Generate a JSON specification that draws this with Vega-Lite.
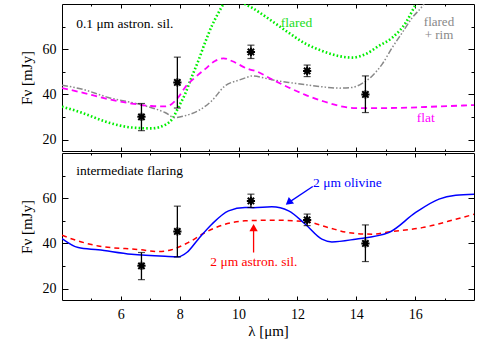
{
  "$schema": "https://vega.github.io/schema/vega-lite/v6.json",
  "padding": {"left": 18, "top": 3, "right": 5, "bottom": 5},
  "spacing": 0,
  "config": {
    "view": {"stroke": "black", "strokeWidth": 1},
    "font": "Liberation Serif",
    "axis": {"domain": false, "grid": false, "ticks": true, "tickColor": "black", "tickWidth": 1, "labelFont": "Liberation Serif", "labelFontSize": 14, "labelColor": "black", "titleFont": "Liberation Serif", "titleFontSize": 15, "titleFontWeight": "normal", "titleColor": "black"},
    "text": {"font": "Liberation Serif", "fontSize": 13.5}
  },
  "datasets": {
    "obs": [
      {"lam": 6.70, "F": 30.1, "lo": 24.0, "hi": 36.0},
      {"lam": 7.92, "F": 45.3, "lo": 34.0, "hi": 56.5},
      {"lam": 10.42, "F": 58.8, "lo": 55.9, "hi": 61.8},
      {"lam": 12.33, "F": 50.4, "lo": 47.9, "hi": 53.0},
      {"lam": 14.31, "F": 40.0, "lo": 32.0, "hi": 48.2}
    ],
    "flared": [
      {"lam": 4.0, "F": 34.6}, {"lam": 4.66, "F": 32.0}, {"lam": 5.57, "F": 27.6}, {"lam": 6.36, "F": 25.4},
      {"lam": 7.04, "F": 25.0}, {"lam": 7.55, "F": 26.9}, {"lam": 7.78, "F": 29.8}, {"lam": 7.95, "F": 34.2},
      {"lam": 8.18, "F": 40.1}, {"lam": 8.4, "F": 47.5}, {"lam": 8.63, "F": 54.8}, {"lam": 8.86, "F": 62.9},
      {"lam": 9.09, "F": 70.3}, {"lam": 9.32, "F": 76.2}, {"lam": 9.49, "F": 80.0}, {"lam": 9.8, "F": 83.5},
      {"lam": 10.0, "F": 83.2}, {"lam": 10.17, "F": 80.5}, {"lam": 10.45, "F": 78.4}, {"lam": 11.13, "F": 72.5},
      {"lam": 11.7, "F": 67.3}, {"lam": 12.27, "F": 62.5}, {"lam": 12.83, "F": 59.3}, {"lam": 13.4, "F": 57.0},
      {"lam": 13.86, "F": 56.3}, {"lam": 14.31, "F": 57.8}, {"lam": 14.77, "F": 61.5}, {"lam": 15.22, "F": 65.1},
      {"lam": 15.68, "F": 71.7}, {"lam": 16.02, "F": 79.8}, {"lam": 16.3, "F": 86.0}
    ],
    "rim": [
      {"lam": 4.0, "F": 44.1}, {"lam": 4.66, "F": 42.4}, {"lam": 5.57, "F": 38.7}, {"lam": 6.7, "F": 35.4},
      {"lam": 7.5, "F": 32.0}, {"lam": 7.84, "F": 29.8}, {"lam": 8.18, "F": 30.6}, {"lam": 8.63, "F": 32.8},
      {"lam": 9.09, "F": 37.2}, {"lam": 9.54, "F": 43.8}, {"lam": 10.0, "F": 46.3}, {"lam": 10.34, "F": 47.8},
      {"lam": 10.45, "F": 48.2}, {"lam": 11.13, "F": 46.5}, {"lam": 11.7, "F": 45.3}, {"lam": 12.27, "F": 44.3},
      {"lam": 12.83, "F": 43.4}, {"lam": 13.4, "F": 42.8}, {"lam": 13.86, "F": 43.1}, {"lam": 14.2, "F": 44.9},
      {"lam": 14.54, "F": 48.2}, {"lam": 14.88, "F": 53.4}, {"lam": 15.22, "F": 60.7}, {"lam": 15.56, "F": 67.3},
      {"lam": 15.9, "F": 73.9}, {"lam": 16.25, "F": 79.1}, {"lam": 16.5, "F": 84.0}
    ],
    "flat": [
      {"lam": 4.0, "F": 42.8}, {"lam": 4.66, "F": 40.9}, {"lam": 5.57, "F": 37.9}, {"lam": 6.36, "F": 36.0},
      {"lam": 7.04, "F": 34.9}, {"lam": 7.5, "F": 34.7}, {"lam": 7.72, "F": 35.7}, {"lam": 7.95, "F": 38.7},
      {"lam": 8.18, "F": 43.1}, {"lam": 8.52, "F": 47.5}, {"lam": 8.86, "F": 51.2}, {"lam": 9.2, "F": 54.8},
      {"lam": 9.49, "F": 56.0}, {"lam": 9.77, "F": 54.8}, {"lam": 10.34, "F": 51.2}, {"lam": 10.57, "F": 50.4},
      {"lam": 11.13, "F": 46.7}, {"lam": 11.7, "F": 43.1}, {"lam": 12.27, "F": 39.8}, {"lam": 12.83, "F": 37.2},
      {"lam": 13.4, "F": 35.0}, {"lam": 13.97, "F": 34.0}, {"lam": 15.1, "F": 34.0}, {"lam": 16.81, "F": 34.7},
      {"lam": 18.0, "F": 35.3}
    ],
    "olivine": [
      {"lam": 4.0, "F": 42.2}, {"lam": 4.55, "F": 38.2}, {"lam": 5.23, "F": 37.2}, {"lam": 6.36, "F": 35.2},
      {"lam": 7.5, "F": 34.3}, {"lam": 7.95, "F": 34.1}, {"lam": 8.24, "F": 36.0}, {"lam": 8.63, "F": 41.9},
      {"lam": 9.09, "F": 48.5}, {"lam": 9.66, "F": 54.4}, {"lam": 10.22, "F": 55.9}, {"lam": 10.5, "F": 55.8},
      {"lam": 11.13, "F": 56.2}, {"lam": 11.7, "F": 54.4}, {"lam": 12.27, "F": 48.5}, {"lam": 12.83, "F": 41.9},
      {"lam": 13.17, "F": 40.7}, {"lam": 13.97, "F": 41.9}, {"lam": 15.1, "F": 44.8}, {"lam": 16.02, "F": 53.7},
      {"lam": 16.81, "F": 59.6}, {"lam": 17.38, "F": 61.3}, {"lam": 18.0, "F": 61.8}
    ],
    "astron": [
      {"lam": 4.0, "F": 43.6}, {"lam": 4.55, "F": 41.1}, {"lam": 5.23, "F": 38.9}, {"lam": 6.7, "F": 37.2},
      {"lam": 7.27, "F": 36.4}, {"lam": 7.72, "F": 37.2}, {"lam": 8.29, "F": 40.4}, {"lam": 8.86, "F": 44.8},
      {"lam": 9.54, "F": 48.5}, {"lam": 10.22, "F": 50.0}, {"lam": 11.13, "F": 50.3}, {"lam": 12.27, "F": 49.7},
      {"lam": 13.06, "F": 47.0}, {"lam": 13.74, "F": 44.8}, {"lam": 14.54, "F": 44.1}, {"lam": 15.22, "F": 45.3},
      {"lam": 16.24, "F": 47.0}, {"lam": 17.38, "F": 50.7}, {"lam": 18.0, "F": 52.9}
    ]
  },
  "vconcat": [
    {
      "width": 412,
      "height": 147,
      "resolve": {"axis": {"x": "independent", "y": "independent"}},
      "layer": [
        {
          "data": {"name": "flared"},
          "mark": {"type": "line", "color": "#00ee00", "strokeWidth": 2.6, "strokeDash": [1.6, 2.2], "interpolate": "monotone", "clip": true},
          "encoding": {
            "x": {"field": "lam", "type": "quantitative", "scale": {"domain": [4, 18], "nice": false, "zero": false}, "axis": {"orient": "bottom", "values": [6, 8, 10, 12, 14, 16], "tickSize": -4, "labels": false, "title": null}},
            "y": {"field": "F", "type": "quantitative", "scale": {"domain": [15, 80], "nice": false, "zero": false}, "axis": {"orient": "left", "values": [20, 40, 60], "tickSize": -6, "labelPadding": 12, "title": "Fν [mJy]", "titlePadding": 8}}
          }
        },
        {
          "data": {"name": "rim"},
          "mark": {"type": "line", "color": "#888888", "strokeWidth": 1.5, "strokeDash": [6, 2, 1.5, 2, 1.5, 2], "interpolate": "monotone", "clip": true},
          "encoding": {
            "x": {"field": "lam", "type": "quantitative", "scale": {"domain": [4, 18], "nice": false, "zero": false}, "axis": {"orient": "bottom", "values": [5, 7, 9, 11, 13, 15, 17], "tickSize": -2, "labels": false, "title": null}},
            "y": {"field": "F", "type": "quantitative", "scale": {"domain": [15, 80], "nice": false, "zero": false}, "axis": {"orient": "left", "values": [30, 50, 70], "tickSize": -3, "labels": false, "title": null}}
          }
        },
        {
          "data": {"name": "flat"},
          "mark": {"type": "line", "color": "#ff00ff", "strokeWidth": 1.8, "strokeDash": [6, 4], "interpolate": "monotone", "clip": true},
          "encoding": {
            "x": {"field": "lam", "type": "quantitative", "scale": {"domain": [4, 18], "nice": false, "zero": false}, "axis": {"orient": "top", "values": [6, 8, 10, 12, 14, 16], "tickSize": -4, "labels": false, "title": null}},
            "y": {"field": "F", "type": "quantitative", "scale": {"domain": [15, 80], "nice": false, "zero": false}, "axis": {"orient": "right", "values": [20, 40, 60], "tickSize": -6, "labels": false, "title": null}}
          }
        },
        {
          "data": {"name": "obs"},
          "mark": {"type": "rule", "color": "black", "strokeWidth": 1.3},
          "encoding": {
            "x": {"field": "lam", "type": "quantitative", "scale": {"domain": [4, 18], "nice": false, "zero": false}, "axis": {"orient": "top", "values": [5, 7, 9, 11, 13, 15, 17], "tickSize": -2, "labels": false, "title": null}},
            "y": {"field": "lo", "type": "quantitative", "scale": {"domain": [15, 80], "nice": false, "zero": false}, "axis": {"orient": "right", "values": [30, 50, 70], "tickSize": -3, "labels": false, "title": null}},
            "y2": {"field": "hi"}
          }
        },
        {
          "data": {"name": "obs"},
          "mark": {"type": "tick", "orient": "horizontal", "size": 7, "thickness": 1.2, "color": "black"},
          "encoding": {
            "x": {"field": "lam", "type": "quantitative", "axis": null},
            "y": {"field": "lo", "type": "quantitative", "axis": null}
          }
        },
        {
          "data": {"name": "obs"},
          "mark": {"type": "tick", "orient": "horizontal", "size": 7, "thickness": 1.2, "color": "black"},
          "encoding": {
            "x": {"field": "lam", "type": "quantitative", "axis": null},
            "y": {"field": "hi", "type": "quantitative", "axis": null}
          }
        },
        {
          "data": {"name": "obs"},
          "mark": {"type": "point", "shape": "M-1,-1L1,1M-1,1L1,-1M0,-1.3L0,1.3M-1.3,0L1.3,0", "size": 40, "filled": false, "stroke": "black", "strokeWidth": 2, "opacity": 1},
          "encoding": {
            "x": {"field": "lam", "type": "quantitative", "axis": null},
            "y": {"field": "F", "type": "quantitative", "axis": null}
          }
        },
        {
          "data": {"values": [{"lam": 4.48, "F": 71.3, "label": "0.1 μm astron. sil."}]},
          "mark": {"type": "text", "align": "left", "baseline": "middle", "color": "black", "font": "Liberation Serif", "fontSize": 13.5},
          "encoding": {"x": {"field": "lam", "type": "quantitative", "axis": null}, "y": {"field": "F", "type": "quantitative", "axis": null}, "text": {"field": "label"}}
        },
        {
          "data": {"values": [{"lam": 11.97, "F": 71.7, "label": "flared"}]},
          "mark": {"type": "text", "align": "center", "baseline": "middle", "color": "#22dd22", "font": "Liberation Serif", "fontSize": 13.5},
          "encoding": {"x": {"field": "lam", "type": "quantitative", "axis": null}, "y": {"field": "F", "type": "quantitative", "axis": null}, "text": {"field": "label"}}
        },
        {
          "data": {"values": [{"lam": 16.81, "F": 71.7, "label": "flared\n+ rim"}]},
          "mark": {"type": "text", "align": "center", "baseline": "top", "dy": -7, "lineBreak": "\n", "lineHeight": 13, "color": "#888888", "font": "Liberation Serif", "fontSize": 13},
          "encoding": {"x": {"field": "lam", "type": "quantitative", "axis": null}, "y": {"field": "F", "type": "quantitative", "axis": null}, "text": {"field": "label"}}
        },
        {
          "data": {"values": [{"lam": 16.36, "F": 29.8, "label": "flat"}]},
          "mark": {"type": "text", "align": "center", "baseline": "middle", "color": "#ff00ff", "font": "Liberation Serif", "fontSize": 13.5},
          "encoding": {"x": {"field": "lam", "type": "quantitative", "axis": null}, "y": {"field": "F", "type": "quantitative", "axis": null}, "text": {"field": "label"}}
        }
      ]
    },
    {
      "width": 412,
      "height": 147,
      "resolve": {"axis": {"x": "independent", "y": "independent"}},
      "layer": [
        {
          "data": {"name": "astron"},
          "mark": {"type": "line", "color": "#ff0000", "strokeWidth": 1.5, "strokeDash": [5, 4], "interpolate": "monotone", "clip": true},
          "encoding": {
            "x": {"field": "lam", "type": "quantitative", "scale": {"domain": [4, 18], "nice": false, "zero": false}, "axis": {"orient": "bottom", "values": [6, 8, 10, 12, 14, 16], "tickSize": -4, "labelPadding": 11, "title": "λ [μm]", "titlePadding": 2}},
            "y": {"field": "F", "type": "quantitative", "scale": {"domain": [15, 80], "nice": false, "zero": false}, "axis": {"orient": "left", "values": [20, 40, 60], "tickSize": -6, "labelPadding": 12, "title": "Fν [mJy]", "titlePadding": 8}}
          }
        },
        {
          "data": {"name": "olivine"},
          "mark": {"type": "line", "color": "#0000ff", "strokeWidth": 1.5, "interpolate": "monotone", "clip": true},
          "encoding": {
            "x": {"field": "lam", "type": "quantitative", "scale": {"domain": [4, 18], "nice": false, "zero": false}, "axis": {"orient": "bottom", "values": [5, 7, 9, 11, 13, 15, 17], "tickSize": -2, "labels": false, "title": null}},
            "y": {"field": "F", "type": "quantitative", "scale": {"domain": [15, 80], "nice": false, "zero": false}, "axis": {"orient": "left", "values": [30, 50, 70], "tickSize": -3, "labels": false, "title": null}}
          }
        },
        {
          "data": {"name": "obs"},
          "mark": {"type": "rule", "color": "black", "strokeWidth": 1.3},
          "encoding": {
            "x": {"field": "lam", "type": "quantitative", "scale": {"domain": [4, 18], "nice": false, "zero": false}, "axis": {"orient": "top", "values": [6, 8, 10, 12, 14, 16], "tickSize": -4, "labels": false, "title": null}},
            "y": {"field": "lo", "type": "quantitative", "scale": {"domain": [15, 80], "nice": false, "zero": false}, "axis": {"orient": "right", "values": [20, 40, 60], "tickSize": -6, "labels": false, "title": null}},
            "y2": {"field": "hi"}
          }
        },
        {
          "data": {"name": "obs"},
          "mark": {"type": "tick", "orient": "horizontal", "size": 7, "thickness": 1.2, "color": "black"},
          "encoding": {
            "x": {"field": "lam", "type": "quantitative", "axis": {"orient": "top", "values": [5, 7, 9, 11, 13, 15, 17], "tickSize": -2, "labels": false, "title": null}},
            "y": {"field": "lo", "type": "quantitative", "axis": {"orient": "right", "values": [30, 50, 70], "tickSize": -3, "labels": false, "title": null}}
          }
        },
        {
          "data": {"name": "obs"},
          "mark": {"type": "tick", "orient": "horizontal", "size": 7, "thickness": 1.2, "color": "black"},
          "encoding": {
            "x": {"field": "lam", "type": "quantitative", "axis": null},
            "y": {"field": "hi", "type": "quantitative", "axis": null}
          }
        },
        {
          "data": {"name": "obs"},
          "mark": {"type": "point", "shape": "M-1,-1L1,1M-1,1L1,-1M0,-1.3L0,1.3M-1.3,0L1.3,0", "size": 40, "filled": false, "stroke": "black", "strokeWidth": 2, "opacity": 1},
          "encoding": {
            "x": {"field": "lam", "type": "quantitative", "axis": null},
            "y": {"field": "F", "type": "quantitative", "axis": null}
          }
        },
        {
          "data": {"values": [{"lam": 12.52, "F": 65.2, "lam2": 11.75, "F2": 58.5}]},
          "mark": {"type": "rule", "color": "#0000ff", "strokeWidth": 1.3},
          "encoding": {"x": {"field": "lam", "type": "quantitative", "axis": null}, "y": {"field": "F", "type": "quantitative", "axis": null}, "x2": {"field": "lam2"}, "y2": {"field": "F2"}}
        },
        {
          "data": {"values": [{"lam": 11.70, "F": 58.1}]},
          "mark": {"type": "point", "shape": "triangle-up", "angle": 231, "size": 70, "filled": true, "color": "#0000ff", "opacity": 1},
          "encoding": {"x": {"field": "lam", "type": "quantitative", "axis": null}, "y": {"field": "F", "type": "quantitative", "axis": null}}
        },
        {
          "data": {"values": [{"lam": 10.51, "F": 36.0, "F2": 47.0}]},
          "mark": {"type": "rule", "color": "#ff0000", "strokeWidth": 1.3},
          "encoding": {"x": {"field": "lam", "type": "quantitative", "axis": null}, "y": {"field": "F", "type": "quantitative", "axis": null}, "y2": {"field": "F2"}}
        },
        {
          "data": {"values": [{"lam": 10.51, "F": 47.0}]},
          "mark": {"type": "point", "shape": "triangle-up", "size": 70, "filled": true, "color": "#ff0000", "opacity": 1},
          "encoding": {"x": {"field": "lam", "type": "quantitative", "axis": null}, "y": {"field": "F", "type": "quantitative", "axis": null}}
        },
        {
          "data": {"values": [{"lam": 4.48, "F": 72.1, "label": "intermediate flaring"}]},
          "mark": {"type": "text", "align": "left", "baseline": "middle", "color": "black", "font": "Liberation Serif", "fontSize": 13.5},
          "encoding": {"x": {"field": "lam", "type": "quantitative", "axis": null}, "y": {"field": "F", "type": "quantitative", "axis": null}, "text": {"field": "label"}}
        },
        {
          "data": {"values": [{"lam": 13.70, "F": 66.9, "label": "2 μm olivine"}]},
          "mark": {"type": "text", "align": "center", "baseline": "middle", "color": "#0000ff", "font": "Liberation Serif", "fontSize": 13.5},
          "encoding": {"x": {"field": "lam", "type": "quantitative", "axis": null}, "y": {"field": "F", "type": "quantitative", "axis": null}, "text": {"field": "label"}}
        },
        {
          "data": {"values": [{"lam": 10.52, "F": 32.0, "label": "2 μm astron. sil."}]},
          "mark": {"type": "text", "align": "center", "baseline": "middle", "color": "#ff0000", "font": "Liberation Serif", "fontSize": 13.5},
          "encoding": {"x": {"field": "lam", "type": "quantitative", "axis": null}, "y": {"field": "F", "type": "quantitative", "axis": null}, "text": {"field": "label"}}
        }
      ]
    }
  ]
}
